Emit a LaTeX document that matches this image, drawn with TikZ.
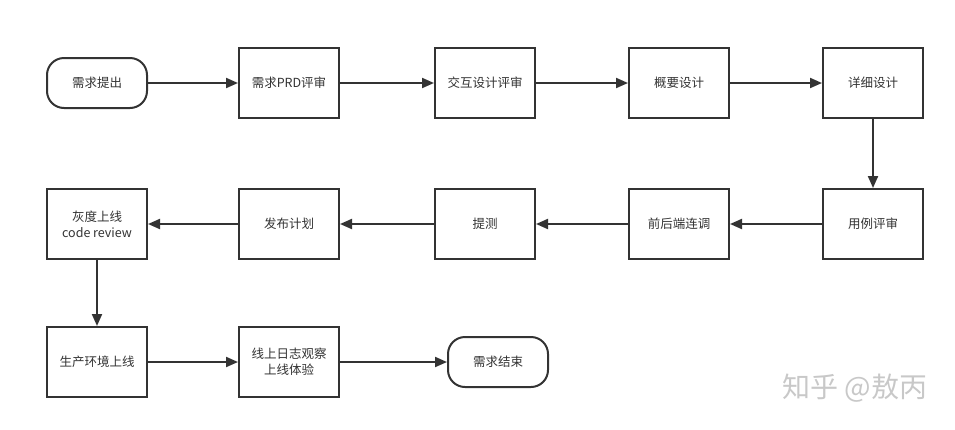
\documentclass[tikz,border=0pt]{standalone}
\usepackage{fontspec}
\setmainfont{Noto Sans CJK SC}
\usetikzlibrary{arrows.meta}
\definecolor{linegray}{HTML}{333333}
\definecolor{markgray}{HTML}{C8C8C8}

\begin{document}
\begin{tikzpicture}[x=1pt, y=-1pt,
    stepbox/.style={rectangle, draw=linegray, line width=2pt, fill=white, text=linegray,
        minimum width=100pt, minimum height=70pt, align=center, inner sep=2pt,
        font=\fontsize{12.5}{16}\selectfont},
    terminal/.style={stepbox, rounded corners=17pt, minimum height=50pt},
    flow/.style={draw=linegray, line width=2pt, -{Triangle[length=12pt, width=10pt]}}]
    \useasboundingbox (0,0) rectangle (955,429);

    % Draw nodes
    \node[terminal] (start) at (97,83) {需求提出};
    \node[stepbox] (prd) at (289,83) {需求PRD评审};
    \node[stepbox] (jiaohu) at (485,83) {交互设计评审};
    \node[stepbox] (gaiyao) at (679,83) {概要设计};
    \node[stepbox] (xiangxi) at (873,83) {详细设计};

    \node[stepbox] (yongli) at (873,224) {用例评审};
    \node[stepbox] (liantiao) at (679,224) {前后端连调};
    \node[stepbox] (tice) at (485,224) {提测};
    \node[stepbox] (fabu) at (289,224) {发布计划};
    \node[stepbox] (huidu) at (97,224) {灰度上线\\code review};

    \node[stepbox] (shengchan) at (97,362) {生产环境上线};
    \node[stepbox] (guancha) at (289,362) {线上日志观察\\上线体验};
    \node[terminal] (finish) at (498,362) {需求结束};

    % Draw connections
    \draw[flow] (start) -- (prd);
    \draw[flow] (prd) -- (jiaohu);
    \draw[flow] (jiaohu) -- (gaiyao);
    \draw[flow] (gaiyao) -- (xiangxi);
    \draw[flow] (xiangxi) -- (yongli);
    \draw[flow] (yongli) -- (liantiao);
    \draw[flow] (liantiao) -- (tice);
    \draw[flow] (tice) -- (fabu);
    \draw[flow] (fabu) -- (huidu);
    \draw[flow] (huidu) -- (shengchan);
    \draw[flow] (shengchan) -- (guancha);
    \draw[flow] (guancha) -- (finish);

    % Watermark
    \node[text=markgray, font=\fontsize{28}{30}\selectfont] (mark) at (855,388) {知乎 @敖丙};
\end{tikzpicture}
\end{document}
